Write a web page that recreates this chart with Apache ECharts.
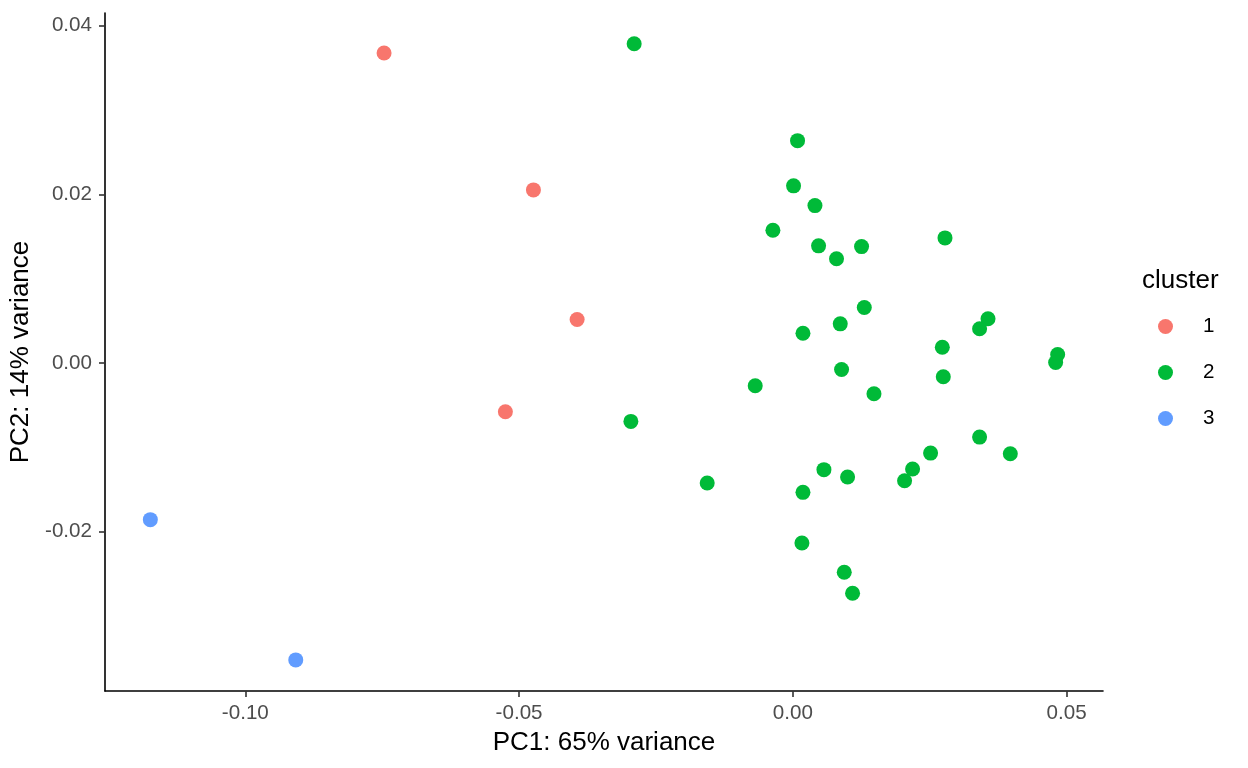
<!DOCTYPE html>
<html>
<head>
<meta charset="utf-8">
<script src="https://cdn.jsdelivr.net/npm/echarts@6/dist/echarts.min.js"></script>
<style>
html,body{margin:0;padding:0;background:#fff;}
#chart{width:1248px;height:768px;}
</style>
</head>
<body>
<div id="chart"></div>
<script>
// ---- data ----
const clusterNames = ['1', '2', '3'];
const clusterColors = ['#F8766D', '#00BA38', '#619CFF'];

const cluster1PC1 = [-0.07466, -0.04738, -0.03940, -0.05250];
const cluster1PC2 = [0.03675, 0.02052, 0.00515, -0.00578];

const cluster2PC1 = [-0.02898, 0.00086, 0.00013, 0.00404, -0.00364, 0.00470, 0.00798, 0.01255, 0.02779,
  0.01305, 0.00866, 0.00185, 0.03565, 0.03411, 0.02730, 0.04837, 0.04800, -0.00687, 0.00890, 0.02748,
  0.01482, -0.02958, -0.01564, 0.00185, 0.00568, 0.01000, 0.02041, 0.02187, 0.02516, 0.03411, 0.03972,
  0.00166, 0.00939, 0.01091];
const cluster2PC2 = [0.03786, 0.02636, 0.02100, 0.01866, 0.01573, 0.01389, 0.01235, 0.01380, 0.01483,
  0.00658, 0.00464, 0.00353, 0.00524, 0.00405, 0.00187, 0.00101, 0.00006, -0.00270, -0.00077, -0.00164,
  -0.00365, -0.00693, -0.01424, -0.01534, -0.01265, -0.01353, -0.01396, -0.01258, -0.01069, -0.00879, -0.01076,
  -0.02135, -0.02482, -0.02731];

const cluster3PC1 = [-0.11735, -0.09079];
const cluster3PC2 = [-0.01858, -0.03521];

const xTicks = [-0.10, -0.05, 0.00, 0.05];
const yTicks = [-0.02, 0.00, 0.02, 0.04];
const xTickLabels = ['-0.10', '-0.05', '0.00', '0.05'];
const yTickLabels = ['-0.02', '0.00', '0.02', '0.04'];

const xTitle = 'PC1: 65% variance';
const yTitle = 'PC2: 14% variance';
const legendTitle = 'cluster';

// ---- build ----
const FONT = 'Liberation Sans, Arial, Helvetica, sans-serif';
function zip(a, b) { return a.map((v, i) => [v, b[i]]); }
const seriesData = [zip(cluster1PC1, cluster1PC2), zip(cluster2PC1, cluster2PC2), zip(cluster3PC1, cluster3PC2)];

function labelFor(ticks, labels) {
  return function (v) {
    for (let i = 0; i < ticks.length; i++) {
      if (Math.abs(ticks[i] - v) < 1e-9) return labels[i];
    }
    return '';
  };
}

const chart = echarts.init(document.getElementById('chart'), null, { renderer: 'canvas' });
chart.setOption({
  backgroundColor: '#ffffff',
  animation: false,
  textStyle: { fontFamily: FONT },
  title: {
    text: legendTitle,
    left: 1142,
    top: 268,
    textStyle: { fontFamily: FONT, fontSize: 26, fontWeight: 'normal', color: '#000000' },
    padding: 0
  },
  legend: {
    orient: 'vertical',
    left: 1158,
    top: 316,
    itemWidth: 15,
    itemHeight: 15,
    itemGap: 25,
    padding: 0,
    icon: 'circle',
    data: clusterNames,
    textStyle: { fontFamily: FONT, fontSize: 20.6, color: '#000000', padding: [0, 0, 0, 25], lineHeight: 15 }
  },
  grid: { left: 105, top: 13, right: 145, bottom: 77, containLabel: false },
  xAxis: {
    type: 'value',
    min: -0.12563,
    max: 0.05665,
    name: xTitle,
    nameLocation: 'middle',
    nameGap: 39,
    nameTextStyle: { fontFamily: FONT, fontSize: 26, color: '#000000' },
    splitLine: { show: false },
    axisLine: { show: true, onZero: false, lineStyle: { color: '#000000', width: 1.6 } },
    axisTick: { show: true, length: 6, customValues: xTicks, lineStyle: { color: '#333333', width: 1.6 } },
    axisLabel: { customValues: xTicks, formatter: labelFor(xTicks, xTickLabels), margin: 12, fontFamily: FONT, fontSize: 20.6, color: '#4D4D4D', showMinLabel: true, showMaxLabel: true }
  },
  yAxis: {
    type: 'value',
    min: -0.0389,
    max: 0.0415,
    name: yTitle,
    nameLocation: 'middle',
    nameGap: 58,
    nameTextStyle: { fontFamily: FONT, fontSize: 26, color: '#000000' },
    splitLine: { show: false },
    axisLine: { show: true, onZero: false, lineStyle: { color: '#000000', width: 1.6 } },
    axisTick: { show: true, length: 6, customValues: yTicks, lineStyle: { color: '#333333', width: 1.6 } },
    axisLabel: { customValues: yTicks, formatter: labelFor(yTicks, yTickLabels), margin: 13, padding: [4, 0, 0, 0], fontFamily: FONT, fontSize: 20.6, color: '#4D4D4D' }
  },
  series: clusterNames.map((n, i) => ({
    name: n,
    type: 'scatter',
    symbol: 'circle',
    symbolSize: 15,
    itemStyle: { color: clusterColors[i], opacity: 1 },
    data: seriesData[i]
  }))
});
</script>
</body>
</html>
